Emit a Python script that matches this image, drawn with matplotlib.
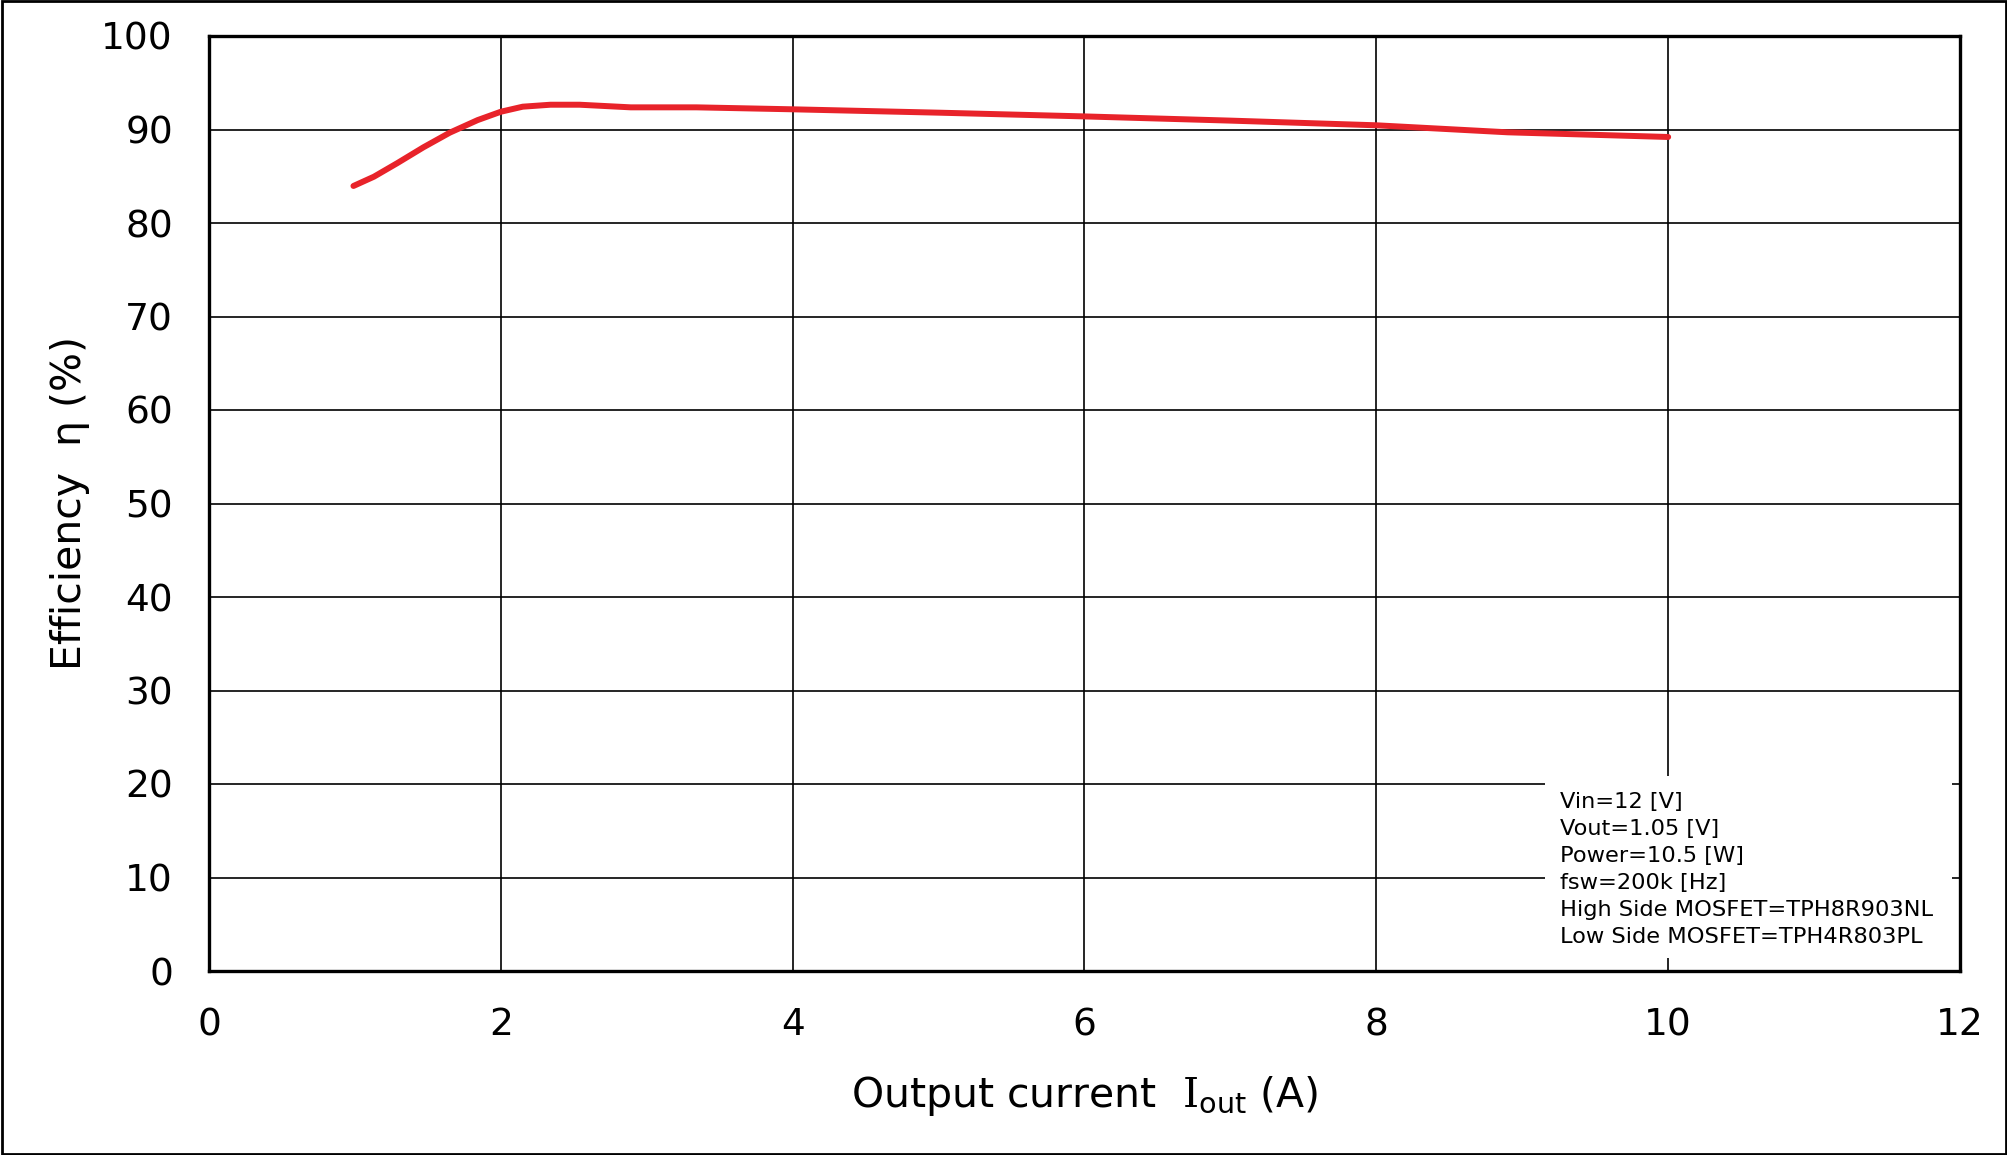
import numpy as np
import matplotlib
matplotlib.use('Agg')
import matplotlib.pyplot as plt
from matplotlib.patches import Rectangle

plt.rcParams['font.family'] = ['DejaVu Sans']
plt.rcParams['mathtext.fontset'] = 'dejavuserif'

# efficiency curve
current = [0.99, 1.13, 1.29, 1.47, 1.65, 1.84, 2.0, 2.15, 2.34, 2.54, 2.89, 3.34,
           4.0, 5.0, 6.0, 7.0, 8.0, 8.9, 10.0]
efficiency = [83.96, 84.95, 86.4, 88.1, 89.66, 91.0, 91.9, 92.44, 92.65, 92.65, 92.37, 92.37,
              92.16, 91.8, 91.4, 90.95, 90.45, 89.7, 89.2]

x_ticks = [0, 2, 4, 6, 8, 10, 12]
y_ticks = [0, 10, 20, 30, 40, 50, 60, 70, 80, 90, 100]

conditions = ["Vin=12 [V]", "Vout=1.05 [V]", "Power=10.5 [W]", "fsw=200k [Hz]",
              "High Side MOSFET=TPH8R903NL", "Low Side MOSFET=TPH4R803PL"]

fig = plt.figure(figsize=(20.08, 11.55), dpi=100)
ax = fig.add_axes([209 / 2008, 1 - 971 / 1155, 1751 / 2008, 935 / 1155])

ax.plot(current, efficiency, color='#E8232A', linewidth=4.3,
        solid_capstyle='round', solid_joinstyle='round', zorder=4)

ax.set_xlim(0, 12)
ax.set_ylim(0, 100)
ax.set_xticks(x_ticks)
ax.set_yticks(y_ticks)
ax.grid(True, color='black', linewidth=1.2)
ax.set_axisbelow(True)
ax.tick_params(axis='both', length=0, labelsize=27)
ax.tick_params(axis='x', pad=26)
ax.tick_params(axis='y', pad=26)
for s in ax.spines.values():
    s.set_linewidth(2.4)
    s.set_zorder(5)

ax.set_xlabel(r'Output current  $\mathrm{I}_{\mathsf{out}}$ (A)', fontsize=29.5, labelpad=22)
ax.set_ylabel('Efficiency  η (%)', fontsize=29.5, labelpad=8)

# white box behind the conditions text
ax.add_patch(Rectangle((0.763, 0.0139), 0.2324, 0.1947, transform=ax.transAxes,
                       facecolor='white', edgecolor='none', zorder=3))
ax.text(0.7716, 0.1915, "\n".join(conditions), transform=ax.transAxes,
        ha='left', va='top', fontsize=16.2, linespacing=1.44, zorder=4)

# outer frame round the figure
fig.add_artist(Rectangle((0.001, 0.001), 0.998, 0.998, transform=fig.transFigure,
                         fill=False, edgecolor='black', linewidth=2))

fig.savefig('out.png', dpi=100)
